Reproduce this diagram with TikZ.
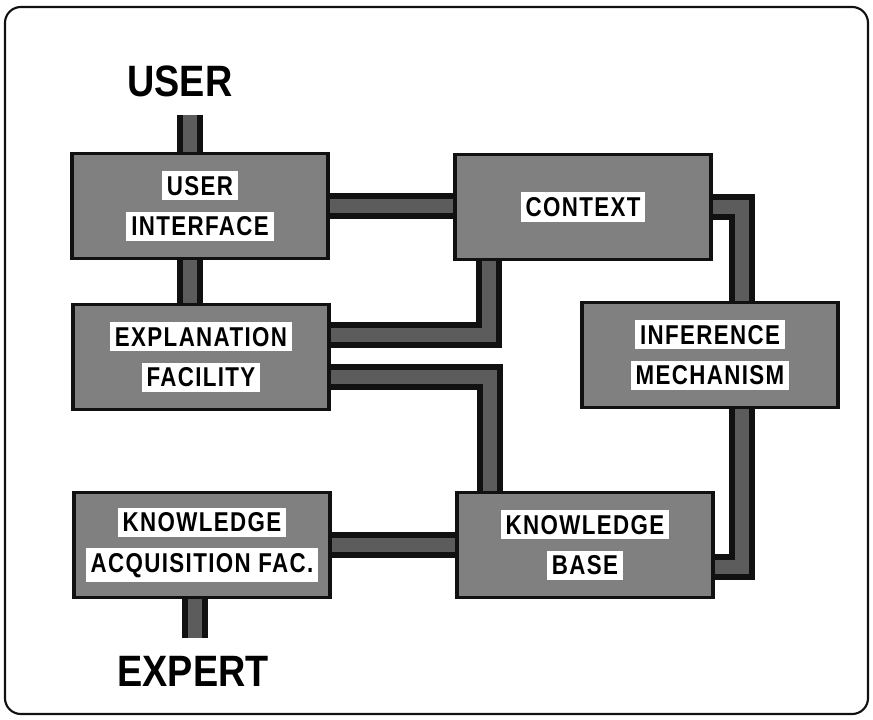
\documentclass[tikz,border=0pt]{standalone}
\usepackage{fontspec}
\setmainfont{Liberation Sans}
\newfontfamily\boxfont[FakeStretch=0.82,LetterSpace=5]{Liberation Sans}
\usetikzlibrary{calc}
\definecolor{ink}{HTML}{111111}
\definecolor{dotgrey}{HTML}{808080}
\definecolor{bargrey}{HTML}{5C5C5C}
\pgfdeclarelayer{links}
\pgfsetlayers{links,main}
\setlength{\fboxsep}{2.8pt}
\newcommand{\lbl}[1]{\colorbox{white}{#1}}

\begin{document}
\begin{tikzpicture}[
    x=0.02cm, y=-0.02cm,
    line cap=butt, line join=miter,
    every node/.style={font=\boxfont\bfseries\fontsize{15.5}{23}\selectfont},
    module/.style={draw=ink, line width=2pt, fill=dotgrey, align=center,
        minimum width=5.12cm, minimum height=2.1cm, inner sep=0pt},
    conn/.style={draw=ink, line width=3pt, double=bargrey, double distance=8.5pt},
    actor/.style={inner sep=0pt, xscale=0.86,
        font=\rmfamily\fontsize{25}{25}\selectfont\bfseries},
]
\useasboundingbox (0,0) rectangle (873,720);

% --- Outer frame ---
\draw[ink, line width=1.2pt, rounded corners=9pt] (5,7) rectangle (868,714);

% --- People at either end ---
\node[actor] (user)   at (180,81)  {USER};
\node[actor] (expert) at (193,671) {EXPERT};

% --- Modules ---
\node[module] (ui)  at (200,206) {\lbl{USER}\\\lbl{INTERFACE}};
\node[module] (ctx) at (583,207) {\lbl{CONTEXT}};
\node[module] (ef)  at (201,357) {\lbl{EXPLANATION}\\\lbl{FACILITY}};
\node[module] (inf) at (710,355) {\lbl{INFERENCE}\\\lbl{MECHANISM}};
\node[module] (kaf) at (202,545) {\lbl{KNOWLEDGE}\\\lbl{ACQUISITION FAC.}};
\node[module] (kb)  at (585,545) {\lbl{KNOWLEDGE}\\\lbl{BASE}};

% --- Links (behind the modules) ---
\begin{pgfonlayer}{links}
\draw[conn] ($(user.south)+(10,18)$) -- ($(ui.north)+(-10,0)$);
\draw[conn] ($(ui.south)+(-10,0)$) -- ($(ef.north)+(-11,0)$);
\draw[conn] (ui.east) -- (ui.east -| ctx.west);
\draw[conn] (ctx.east) -| ($(inf.north)+(32,0)$);
\draw[conn] ($(ef.east)+(0,-22)$) -| ($(ctx.south)+(-94,0)$);
\draw[conn] ($(ef.east)+(0,20)$) -| ($(kb.north)+(-95,0)$);
\draw[conn] ($(inf.south)+(32,0)$) |- ($(kb.east)+(0,22)$);
\draw[conn] (kaf.east) -- (kaf.east -| kb.west);
\draw[conn] ($(kaf.south)+(-7,0)$) -- ($(expert.north)+(2,-18)$);
\end{pgfonlayer}

\end{tikzpicture}
\end{document}
